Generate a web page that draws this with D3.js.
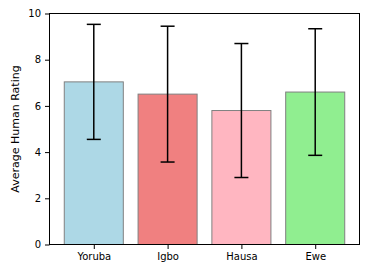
<!DOCTYPE html>
<html><head><meta charset="utf-8">
<script src="https://cdn.jsdelivr.net/npm/d3@7"></script>
<style>body{margin:0;background:#fff}svg{display:block}text{font-family:"DejaVu Sans",sans-serif}</style>
</head><body>
<script>
const categories = ["Yoruba", "Igbo", "Hausa", "Ewe"];
const means = [7.04, 6.51, 5.80, 6.60];
const errors = [2.49, 2.94, 2.90, 2.74];
const colors = ["lightblue", "lightcoral", "lightpink", "lightgreen"];
const yTicks = [0, 2, 4, 6, 8, 10];

const W = 369, H = 274;
const m = {left: 49.5, right: 9.5, top: 13.5, bottom: 29.5};
const svg = d3.select("body").append("svg").attr("width", W).attr("height", H);

const x = d3.scaleLinear().domain([-0.6, categories.length - 0.4]).range([m.left, W - m.right]);
const y = d3.scaleLinear().domain([0, 10]).range([H - m.bottom, m.top]);
const bw = (x(0.8) - x(0));

const g = svg.append("g");
g.selectAll("rect.bar").data(categories).join("rect")
  .attr("class", "bar")
  .attr("x", (d, i) => x(i) - bw / 2)
  .attr("width", bw)
  .attr("y", (d, i) => y(means[i]))
  .attr("height", (d, i) => y(0) - y(means[i]))
  .attr("fill", (d, i) => colors[i])
  .attr("stroke", "grey").attr("stroke-width", 1);

const cap = 7;
const eb = g.selectAll("g.err").data(categories).join("g").attr("class", "err")
  .attr("stroke", "black").attr("stroke-width", 1.5);
eb.append("line").attr("x1", (d, i) => x(i)).attr("x2", (d, i) => x(i))
  .attr("y1", (d, i) => y(means[i] - errors[i])).attr("y2", (d, i) => y(means[i] + errors[i]));
eb.append("line").attr("x1", (d, i) => x(i) - cap).attr("x2", (d, i) => x(i) + cap)
  .attr("y1", (d, i) => y(means[i] + errors[i])).attr("y2", (d, i) => y(means[i] + errors[i]));
eb.append("line").attr("x1", (d, i) => x(i) - cap).attr("x2", (d, i) => x(i) + cap)
  .attr("y1", (d, i) => y(means[i] - errors[i])).attr("y2", (d, i) => y(means[i] - errors[i]));

// frame
svg.append("rect").attr("x", m.left).attr("y", m.top)
  .attr("width", W - m.right - m.left).attr("height", H - m.bottom - m.top)
  .attr("fill", "none").attr("stroke", "black").attr("stroke-width", 1);

const xAxis = svg.append("g").attr("transform", `translate(0,${H - m.bottom})`)
  .call(d3.axisBottom(x).tickValues(d3.range(categories.length)).tickFormat(i => categories[i]).tickSize(4.5).tickPadding(4));
const yAxis = svg.append("g").attr("transform", `translate(${m.left},0)`)
  .call(d3.axisLeft(y).tickValues(yTicks).tickSize(4.5).tickPadding(4));
[xAxis, yAxis].forEach(a => {
  a.select(".domain").remove();
  a.selectAll("text").attr("font-size", 10).attr("fill", "black").attr("font-family", "DejaVu Sans");
  a.selectAll("line").attr("stroke", "black");
});

svg.append("text").attr("transform", `translate(19,${(m.top + H - m.bottom) / 2}) rotate(-90)`)
  .attr("text-anchor", "middle").attr("font-size", 11).attr("fill", "black")
  .text("Average Human Rating");
</script>
</body></html>
